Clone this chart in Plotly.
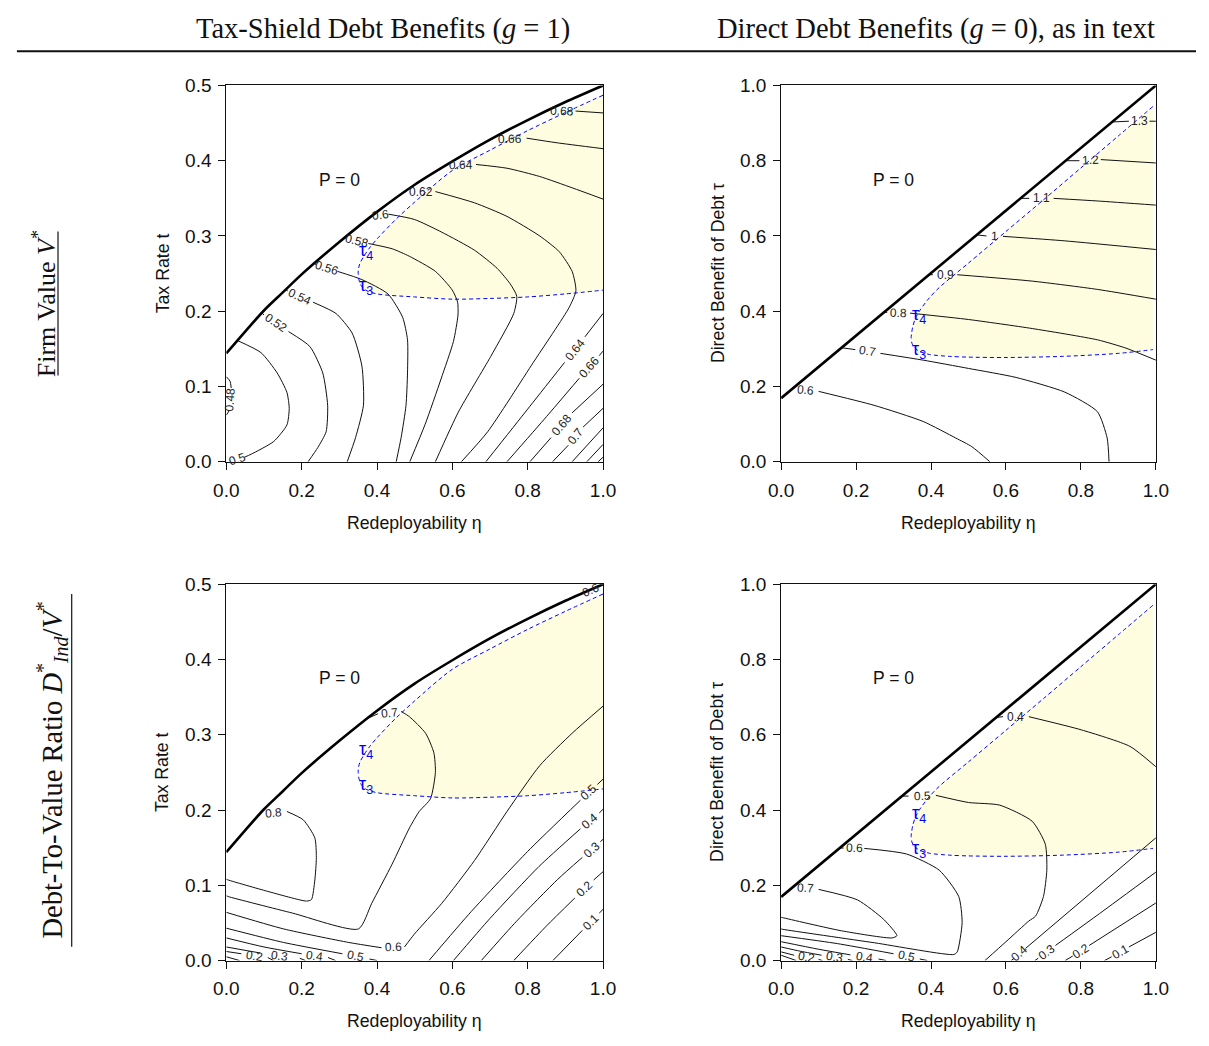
import math
import plotly.graph_objects as go

# ---------------------------------------------------------------- data ----
ETA_TICKS = [0.0, 0.2, 0.4, 0.6, 0.8, 1.0]
T_TICKS = [0.0, 0.1, 0.2, 0.3, 0.4, 0.5]
TAU_TICKS = [0.0, 0.2, 0.4, 0.6, 0.8, 1.0]

# P = 0 boundary (tax-shield case g = 1, direct-benefit case g = 0)
BOUND_G1_ETA = [0.0, 0.05, 0.1, 0.15, 0.2, 0.3, 0.4, 0.5, 0.6, 0.7, 0.8, 0.9, 1.0]
BOUND_G1_T = [0.144, 0.173, 0.201, 0.225, 0.249, 0.292, 0.332, 0.368, 0.399, 0.428, 0.454, 0.478, 0.500]
BOUND_G0_ETA = [0.0, 1.0]
BOUND_G0_TAU = [0.169, 1.0]

# tau_4 threshold (right end -> tip) and tau_3 threshold (tip -> right end)
TAU4_G1 = [(1.0, 0.487), (0.9, 0.464), (0.8, 0.440), (0.7, 0.414), (0.6, 0.387), (0.5, 0.345),
           (0.45, 0.322), (0.4, 0.296), (0.38, 0.284), (0.365, 0.273), (0.355, 0.264),
           (0.351, 0.257), (0.350, 0.251)]
TAU3_G1 = [(0.350, 0.251), (0.352, 0.242), (0.358, 0.234), (0.37, 0.228), (0.40, 0.223),
           (0.5, 0.219), (0.6, 0.216), (0.7, 0.217), (0.8, 0.219), (0.9, 0.223), (1.0, 0.228)]
TAU4_G0 = [(0.992, 0.944), (0.9, 0.866), (0.8, 0.781), (0.7, 0.696), (0.6, 0.612), (0.5, 0.528),
           (0.422, 0.463), (0.395, 0.435), (0.370, 0.402), (0.358, 0.380), (0.351, 0.358),
           (0.348, 0.340), (0.347, 0.332)]
TAU3_G0 = [(0.347, 0.332), (0.349, 0.315), (0.356, 0.303), (0.37, 0.293), (0.396, 0.285),
           (0.45, 0.280), (0.5, 0.278), (0.6, 0.277), (0.75, 0.280), (0.9, 0.288), (0.992, 0.298)]

# Contour lines: (level label, points). A None splits a line where its label sits.
FV_TAX = [
    ("0.48", [(0.0, 0.113), (0.010, 0.107), (0.013, 0.098), None, (0.008, 0.068), (0.0, 0.062)]),
    ("0.5", [(0.030, 0.161), (0.092, 0.145), (0.135, 0.118), (0.161, 0.092), (0.167, 0.071),
             (0.161, 0.049), (0.126, 0.027), (0.066, 0.010), (0.048, 0.006), None, (0.012, 0.0)]),
    ("0.52", [(0.094, 0.198), (0.100, 0.195), None, (0.165, 0.173), (0.222, 0.153), (0.256, 0.118),
              (0.269, 0.075), (0.265, 0.040), (0.243, 0.019), (0.217, 0.0)]),
    ("0.54", [(0.157, 0.229), (0.163, 0.227), None, (0.230, 0.212), (0.291, 0.197), (0.334, 0.171),
              (0.360, 0.127), (0.364, 0.075), (0.343, 0.032), (0.321, 0.0)]),
    ("0.56", [(0.232, 0.264), (0.238, 0.262), None, (0.295, 0.253), (0.360, 0.242), (0.429, 0.223),
              (0.468, 0.192), (0.481, 0.162), (0.481, 0.118), (0.477, 0.075), (0.464, 0.032),
              (0.451, 0.0)]),
    ("0.58", [(0.314, 0.298), (0.318, 0.297), None, (0.377, 0.290), (0.44, 0.283), (0.486, 0.273),
              (0.555, 0.253), (0.600, 0.228), (0.614, 0.212), (0.615, 0.195), (0.603, 0.160),
              (0.570, 0.110), (0.528, 0.050), (0.487, 0.0)]),
    ("0.6", [(0.380, 0.325), (0.386, 0.326), None, (0.430, 0.329), (0.499, 0.322), (0.572, 0.305),
             (0.659, 0.281), (0.719, 0.257), (0.754, 0.236), (0.771, 0.220), (0.763, 0.197),
             (0.702, 0.140), (0.616, 0.066), (0.555, 0.0)]),
    ("0.62", [(0.466, 0.357), (0.478, 0.359), None, (0.555, 0.359), (0.659, 0.344), (0.745, 0.326),
              (0.832, 0.300), (0.884, 0.279), (0.918, 0.253), (0.928, 0.227), (0.910, 0.205),
              (0.815, 0.132), (0.694, 0.040), (0.624, 0.0)]),
    ("0.64", [(0.570, 0.390), (0.583, 0.394), None, (0.663, 0.395), (0.745, 0.390), (0.832, 0.379),
              (0.918, 0.364), (1.0, 0.349)]),
    ("0.66", [(0.697, 0.427), (0.708, 0.429), None, (0.797, 0.430), (0.875, 0.424), (1.0, 0.416)]),
    ("0.68", [(0.848, 0.465), (0.856, 0.467), None, (0.927, 0.466), (1.0, 0.4635)]),
    ("0.64", [(0.689, 0.0), (0.80, 0.070), (0.898, 0.132), None, (0.952, 0.166), (1.0, 0.197)]),
    ("0.66", [(0.745, 0.0), (0.85, 0.060), (0.937, 0.111), None, (0.99, 0.141), (1.0, 0.147)]),
    ("0.68", [(0.806, 0.0), (0.862, 0.032), None, (0.918, 0.065), (1.0, 0.103)]),
    ("0.7", [(0.866, 0.0), (0.908, 0.022), None, (0.947, 0.046), (1.0, 0.071)]),
    (None, [(0.918, 0.0), (1.0, 0.045)]),
    (None, [(0.957, 0.0), (1.0, 0.023)]),
    (None, [(0.987, 0.0), (1.0, 0.006)]),
]

FV_DIRECT = [
    ("0.6", [(0.030, 0.194), None, (0.100, 0.187), (0.248, 0.150), (0.379, 0.107), (0.466, 0.063),
             (0.509, 0.040), (0.557, 0.0)]),
    ("0.7", [(0.161, 0.303), (0.198, 0.298), None, (0.265, 0.288), (0.379, 0.270), (0.50, 0.248),
             (0.627, 0.224), (0.757, 0.185), (0.844, 0.133), (0.870, 0.063), (0.875, 0.0)]),
    ("0.8", [(0.274, 0.397), (0.283, 0.397), None, (0.344, 0.395), (0.50, 0.378), (0.670, 0.354),
             (0.844, 0.324), (0.92, 0.302), (1.0, 0.270)]),
    ("0.9", [(0.395, 0.497), (0.405, 0.497), None, (0.470, 0.497), (0.670, 0.480), (0.844, 0.458),
             (1.0, 0.432)]),
    ("1", [(0.522, 0.603), (0.548, 0.600), None, (0.592, 0.599), (0.757, 0.587), (1.0, 0.564)]),
    ("1.1", [(0.639, 0.700), (0.662, 0.700), None, (0.727, 0.700), (0.844, 0.693), (1.0, 0.682)]),
    ("1.2", [(0.759, 0.800), (0.796, 0.800), None, (0.853, 0.803), (1.0, 0.794)]),
    ("1.3", [(0.883, 0.903), (0.928, 0.905), None, (0.983, 0.905), (1.0, 0.905)]),
]

DV_TAX = [
    ("0.8", [(0.088, 0.195), None, (0.161, 0.198), (0.204, 0.187), (0.235, 0.163), (0.239, 0.137),
             (0.235, 0.107), (0.226, 0.081), (0.213, 0.079), (0.109, 0.092), (0.005, 0.107),
             (0.0, 0.108)]),
    ("0.7", [(0.372, 0.321), (0.403, 0.328), None, (0.464, 0.331), (0.486, 0.324), (0.529, 0.302),
             (0.551, 0.276), (0.555, 0.25), (0.542, 0.215), (0.512, 0.198), (0.486, 0.176),
             (0.440, 0.128), (0.386, 0.076), (0.351, 0.042), (0.176, 0.063), (0.005, 0.085),
             (0.0, 0.086)]),
    ("0.6", [(0.0, 0.064), (0.152, 0.042), (0.325, 0.024), (0.412, 0.017), None, (0.473, 0.018),
             (0.499, 0.035), (0.572, 0.076), (0.659, 0.133), (0.745, 0.198), (0.832, 0.259),
             (0.918, 0.302), (1.0, 0.338)]),
    ("0.5", [(0.0, 0.043), (0.152, 0.024), (0.308, 0.009), None, (0.38, 0.002), (0.40, 0.0)]),
    ("0.4", [(0.0, 0.030), (0.10, 0.018), (0.20, 0.009), None, (0.27, 0.004), (0.29, 0.0)]),
    ("0.3", [(0.0, 0.018), (0.09, 0.010), None, (0.195, 0.003), (0.21, 0.0)]),
    ("0.2", [(0.0, 0.012), (0.04, 0.009), None, (0.11, 0.004), (0.125, 0.0)]),
    (None, [(0.0, 0.005), (0.035, 0.0)]),
    ("0.5", [(0.538, 0.0), (0.65, 0.065), (0.80, 0.145), (0.94, 0.213), None, (0.985, 0.234),
             (1.0, 0.241)]),
    ("0.4", [(0.603, 0.0), (0.70, 0.056), (0.83, 0.125), (0.94, 0.175), None, (0.99, 0.196),
             (1.0, 0.201)]),
    ("0.3", [(0.677, 0.0), (0.77, 0.052), (0.88, 0.108), (0.945, 0.137), None, (0.993, 0.158),
             (1.0, 0.161)]),
    ("0.2", [(0.763, 0.0), (0.85, 0.046), (0.925, 0.083), None, (0.975, 0.107), (1.0, 0.118)]),
    ("0.1", [(0.867, 0.0), (0.945, 0.040), None, (0.99, 0.063), (1.0, 0.068)]),
    ("0.6", [(0.905, 0.479), (0.94, 0.487), None, (0.995, 0.499)]),
]

DV_DIRECT = [
    ("0.7", [(0.030, 0.194), None, (0.100, 0.189), (0.204, 0.161), (0.274, 0.109), (0.309, 0.066),
             (0.296, 0.060), (0.161, 0.079), (0.004, 0.114), (0.0, 0.115)]),
    ("0.6", [(0.157, 0.299), (0.167, 0.299), None, (0.222, 0.298), (0.335, 0.283), (0.422, 0.240),
             (0.474, 0.170), (0.483, 0.101), (0.470, 0.023), (0.461, 0.016), (0.25, 0.047),
             (0.004, 0.083), (0.0, 0.084)]),
    ("0.5", [(0.323, 0.437), (0.340, 0.437), None, (0.413, 0.439), (0.50, 0.420), (0.583, 0.413),
             (0.670, 0.370), (0.705, 0.309), (0.709, 0.240), (0.700, 0.170), (0.679, 0.118),
             (0.661, 0.105), (0.60, 0.050), (0.544, 0.0)]),
    ("0.4", [(0.574, 0.646), (0.592, 0.648), None, (0.661, 0.648), (0.801, 0.613), (0.931, 0.569),
             (1.0, 0.515)]),
    ("0.5", [(0.0, 0.066), (0.15, 0.045), (0.30, 0.018), None, (0.37, 0.004), (0.39, 0.0)]),
    ("0.4", [(0.0, 0.050), (0.10, 0.030), (0.185, 0.015), None, (0.26, 0.004), (0.28, 0.0)]),
    ("0.3", [(0.0, 0.036), (0.05, 0.025), (0.108, 0.014), None, (0.178, 0.003), (0.19, 0.0)]),
    ("0.2", [(0.0, 0.023), (0.035, 0.014), None, (0.10, 0.003), (0.11, 0.0)]),
    (None, [(0.0, 0.014), (0.04, 0.0)]),
    ("0.4", [(0.614, 0.0), (0.622, 0.006), None, (0.652, 0.032), (1.0, 0.326)]),
    ("0.3", [(0.677, 0.0), (0.686, 0.006), None, (0.732, 0.040), (0.85, 0.125), (1.0, 0.235)]),
    ("0.2", [(0.758, 0.0), (0.778, 0.012), None, (0.822, 0.040), (1.0, 0.153)]),
    ("0.1", [(0.863, 0.0), (0.882, 0.010), None, (0.928, 0.036), (1.0, 0.075)]),
]

# ------------------------------------------------------------- layout ----
W, H = 1209, 1046
SANS = "Liberation Sans, Arial, Helvetica, sans-serif"
SERIF = "Liberation Serif, Times New Roman, serif"
YELLOW = "#FEFDE0"
BLUE = "#0000FF"
INK = "#111"

# plot boxes in pixels: left, right, top, bottom
PANELS = [
    dict(n="", box=(218, 603, 77, 461), ymax=0.5, yticks=T_TICKS, ytitle="Tax Rate t",
         bound=(BOUND_G1_ETA, BOUND_G1_T), tau4=TAU4_G1, tau3=TAU3_G1, lines=FV_TAX),
    dict(n="2", box=(785, 1168, 77, 461), ymax=1.0, yticks=TAU_TICKS,
         ytitle="Direct Benefit of Debt τ",
         bound=(BOUND_G0_ETA, BOUND_G0_TAU), tau4=TAU4_G0, tau3=TAU3_G0, lines=FV_DIRECT),
    dict(n="3", box=(218, 603, 586, 970), ymax=0.5, yticks=T_TICKS, ytitle="Tax Rate t",
         bound=(BOUND_G1_ETA, BOUND_G1_T), tau4=TAU4_G1, tau3=TAU3_G1, lines=DV_TAX),
    dict(n="4", box=(785, 1168, 586, 970), ymax=1.0, yticks=TAU_TICKS,
         ytitle="Direct Benefit of Debt τ",
         bound=(BOUND_G0_ETA, BOUND_G0_TAU), tau4=TAU4_G0, tau3=TAU3_G0, lines=DV_DIRECT),
]

fig = go.Figure()
annotations = []
layout_axes = {}


def px(x):
    return x / W


def py(y):
    return 1 - y / H


def note(**kw):
    base = dict(showarrow=False, xanchor="center", yanchor="middle")
    base.update(kw)
    return base


for p in PANELS:
    n = p["n"]
    xa, ya = "x" + n, "y" + n
    left, right, top, bottom = p["box"]
    sx = (right - left) / 1.0
    sy = (bottom - top) / p["ymax"]

    axis_common = dict(showline=True, linecolor=INK, linewidth=1, mirror=True,
                       ticks="outside", ticklen=7, tickwidth=1, tickcolor=INK,
                       showgrid=False, zeroline=False, fixedrange=True,
                       tickfont=dict(family=SANS, size=19, color=INK))
    layout_axes["xaxis" + n] = dict(axis_common, domain=[px(left), px(right)], range=[0, 1],
                                     anchor=ya, tickvals=ETA_TICKS, tickformat=".1f",
                                     ticklabelstandoff=4)
    layout_axes["yaxis" + n] = dict(axis_common, domain=[py(bottom), py(top)],
                                     range=[0, p["ymax"]], anchor=xa, tickvals=p["yticks"],
                                     tickformat=".1f", ticklabelstandoff=3)

    # shaded region between tau_3 and tau_4
    region = p["tau4"] + p["tau3"][1:]
    fig.add_trace(go.Scatter(x=[q[0] for q in region], y=[q[1] for q in region],
                             xaxis=xa, yaxis=ya, mode="lines", fill="toself",
                             fillcolor=YELLOW, line=dict(width=0, shape="spline", smoothing=0.8),
                             hoverinfo="skip", showlegend=False))

    # contour lines, broken where labels sit
    cx, cy = [], []
    for label, pts in p["lines"]:
        for q in pts:
            cx.append(None if q is None else q[0])
            cy.append(None if q is None else q[1])
        cx.append(None)
        cy.append(None)
        if label is None or None not in pts:
            continue
        i = pts.index(None)
        (x1, y1), (x2, y2) = pts[i - 1], pts[i + 1]
        ang = math.degrees(math.atan2(-(y2 - y1) * sy, (x2 - x1) * sx))
        if ang > 90:
            ang -= 180
        elif ang <= -90:
            ang += 180
        annotations.append(note(x=(x1 + x2) / 2, y=(y1 + y2) / 2, xref=xa, yref=ya,
                                text=label, textangle=ang,
                                font=dict(family=SANS, size=12, color="#222")))
    fig.add_trace(go.Scatter(x=cx, y=cy, xaxis=xa, yaxis=ya, mode="lines",
                             line=dict(color=INK, width=1, shape="spline", smoothing=0.6),
                             connectgaps=False, hoverinfo="skip", showlegend=False))

    # tau thresholds
    dashed = p["tau4"] + p["tau3"][1:]
    fig.add_trace(go.Scatter(x=[q[0] for q in dashed], y=[q[1] for q in dashed],
                             xaxis=xa, yaxis=ya, mode="lines",
                             line=dict(color=BLUE, width=1, dash="4px,3px", shape="spline",
                                       smoothing=0.8),
                             hoverinfo="skip", showlegend=False))

    # P = 0 boundary
    bx, by = p["bound"]
    fig.add_trace(go.Scatter(x=bx, y=by, xaxis=xa, yaxis=ya, mode="lines",
                             line=dict(color="#000", width=2.6, shape="spline", smoothing=0.8),
                             hoverinfo="skip", showlegend=False))

    ym = p["ymax"]
    tip = p["tau4"][-1]
    annotations += [
        note(x=0.30, y=0.75 * ym, xref=xa, yref=ya, text="P = 0",
             font=dict(family=SANS, size=17.5, color=INK)),
        note(x=tip[0] + 0.021, y=tip[1] + 0.056 * ym, xref=xa, yref=ya, text="τ<sub>4</sub>",
             font=dict(family=SANS, size=18, color=BLUE)),
        note(x=tip[0] + 0.022, y=tip[1] - 0.036 * ym, xref=xa, yref=ya, text="τ<sub>3</sub>",
             font=dict(family=SANS, size=18, color=BLUE)),
        # axis titles
        note(x=px((left + right) / 2), y=py(bottom + 62), xref="paper", yref="paper",
             text="Redeployability η", font=dict(family=SANS, size=17.7, color=INK)),
        note(x=px(left - 65), y=py((top + bottom) / 2), xref="paper", yref="paper",
             text=p["ytitle"], textangle=-90, font=dict(family=SANS, size=17.7, color=INK)),
    ]

# column and row headings
HEAD_FONT = dict(family=SERIF, size=28.5, color=INK)
annotations += [
    note(x=px(378), y=py(19), xref="paper", yref="paper",
         text="Tax-Shield Debt Benefits (<i>g</i> = 1)", font=HEAD_FONT),
    note(x=px(943), y=py(19), xref="paper", yref="paper",
         text="Direct Debt Benefits (<i>g</i> = 0), as in text", font=HEAD_FONT),
    note(x=px(33), y=py(300), xref="paper", yref="paper", textangle=-90,
         text="Firm Value <i>V</i><sup>*</sup>", font=dict(HEAD_FONT, size=26)),
    note(x=px(40), y=py(776), xref="paper", yref="paper", textangle=-90,
         text="Debt-To-Value Ratio <i>D</i><sup>*</sup><sub><i>Ind</i></sub>/<i>V</i><sup>*</sup>",
         font=HEAD_FONT),
]

shapes = [
    # rule under the column headings
    dict(type="line", xref="paper", yref="paper", x0=px(4), x1=1.0, y0=py(42), y1=py(42),
         line=dict(color=INK, width=2)),
    # underlines of the row headings
    dict(type="line", xref="paper", yref="paper", x0=px(46), x1=px(46), y0=py(226),
         y1=py(373), line=dict(color=INK, width=1.2)),
    dict(type="line", xref="paper", yref="paper", x0=px(60), x1=px(60), y0=py(596),
         y1=py(956), line=dict(color=INK, width=1.2)),
]

fig.update_layout(
    width=W, height=H, margin=dict(l=0, r=0, t=0, b=0),
    paper_bgcolor="white", plot_bgcolor="white", showlegend=False,
    annotations=annotations, shapes=shapes,
    **layout_axes,
)

fig.write_html("out.html")
